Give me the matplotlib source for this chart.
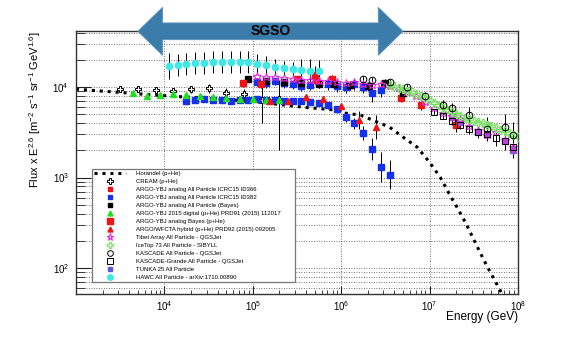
import numpy as np
import matplotlib
matplotlib.use("Agg")
import matplotlib.pyplot as plt
import matplotlib.ticker as mtick
import matplotlib.transforms as mtrans
from matplotlib.patches import Polygon

plt.rcParams['font.family'] = ['Liberation Sans', 'DejaVu Sans']
plt.rcParams['mathtext.fontset'] = 'custom'
plt.rcParams['mathtext.rm'] = 'Liberation Sans'
plt.rcParams['mathtext.it'] = 'Liberation Sans:italic'
plt.rcParams['mathtext.bf'] = 'Liberation Sans:bold'

# Horandel poly-gonato (p+He), log10(E/GeV) vs E^2.6 flux
horandel_loge = [3.0, 3.87, 4.97, 5.57, 5.92, 6.02, 6.22, 6.36, 6.55, 6.70, 6.86,
                 7.00, 7.12, 7.25, 7.31, 7.41, 7.615, 7.81, 7.86]
horandel_flux = [9500, 8200, 7000, 6000, 5600, 5200, 4900, 4300, 3600, 2800, 2170,
                 1480, 1010, 593, 472, 314, 122, 54, 44]

cream_loge = [3.5, 3.7, 3.9, 4.1, 4.3, 4.5, 4.7, 4.9, 5.1, 5.3]
cream_flux = [9500, 9500, 9270, 9030, 9500, 9750, 8590, 8370, 7180, 7370]
cream_elo = [0.03, 0.03, 0.03, 0.04, 0.04, 0.05, 0.06, 0.09, 0.25, 0.56]
cream_ehi = [0.03, 0.03, 0.03, 0.04, 0.04, 0.05, 0.06, 0.06, 0.20, 0.21]

argo366_loge = [5.50, 5.70, 5.90, 6.10, 6.68, 6.90, 7.30]
argo366_flux = [12260, 13570, 12260, 10520, 7560, 6320, 3800]
argo366_err = [0.04, 0.10, 0.05, 0.05, 0.04, 0.05, 0.08]

argo382_loge = [5.05, 5.15, 5.25, 5.35, 5.45, 5.55, 5.65, 5.75, 5.85, 5.95, 6.05, 6.15,
                6.25, 6.35, 6.45,
                4.25, 4.35, 4.45, 4.55, 4.65, 4.75, 4.85, 4.95, 5.05, 5.15, 5.25, 5.35,
                5.45, 5.55, 5.65, 5.75, 5.85, 5.95, 6.05, 6.15, 6.25, 6.35, 6.45, 6.55]
argo382_flux = [11360, 11070, 11650, 11070, 10790, 10260, 10520, 11070, 10790, 10260,
                10000, 10790, 10000, 8590, 9270,
                7000, 7180, 7370, 7180, 7180, 7000, 7180, 7180, 7370, 7180, 7180, 7000,
                7000, 7000, 6830, 6660, 6320, 5710, 4670, 4000, 3110, 2070, 1310, 1070]
argo382_err = [0.04, 0.05, 0.04, 0.05, 0.05, 0.05, 0.05, 0.05, 0.06, 0.06, 0.06, 0.06,
               0.07, 0.10, 0.08,
               0.02, 0.02, 0.02, 0.02, 0.02, 0.02, 0.02, 0.02, 0.02, 0.02, 0.02, 0.02,
               0.02, 0.02, 0.03, 0.03, 0.04, 0.04, 0.05, 0.06, 0.08, 0.12, 0.17, 0.16]

argo_bayes_loge = [4.95, 5.15, 5.35, 5.55, 5.75, 5.92, 6.10, 6.30, 6.50, 6.70]
argo_bayes_flux = [12260, 11650, 11360, 11070, 10790, 10790, 10520, 10260, 11070, 8590]
argo_bayes_err = [0.03, 0.03, 0.03, 0.04, 0.04, 0.04, 0.05, 0.05, 0.05, 0.06]

argo_digital_loge = [3.65, 3.80, 3.95, 4.10, 4.25, 4.40, 4.55, 4.70, 4.85, 5.00, 5.15, 5.30]
argo_digital_flux = [8590, 7960, 8160, 8370, 8160, 7960, 7760, 7560, 7370, 7370, 7180, 7180]
argo_digital_err = [0.02] * 12

argo_bayes_phe_loge = [4.89, 5.09, 5.71]
argo_bayes_phe_flux = [11070, 10790, 11950]
argo_bayes_phe_err = [0.04, 0.04, 0.05]

wfcta_loge = [5.2, 5.4, 5.6, 5.8, 6.0, 6.2, 6.4]
wfcta_flux = [7000, 7000, 7760, 7370, 6160, 4320, 3610]
wfcta_err = [0.02, 0.02, 0.03, 0.03, 0.04, 0.10, 0.13]

tibet_loge = [5.05, 5.15, 5.25, 5.35, 5.45, 5.55, 5.65, 5.75, 5.85, 5.95, 6.05, 6.15,
              6.25, 6.35, 6.45, 6.55, 6.65, 6.75, 6.85, 6.95, 7.05, 7.15, 7.25, 7.35,
              7.45, 7.55, 7.65, 7.75, 7.85, 7.95]
tibet_flux = [13230, 12900, 12900, 12570, 12260, 11950, 11950, 11650, 11650, 11360,
              11070, 11360, 10790, 10520, 10790, 10260, 9750, 8810, 7960, 6830,
              5860, 5160, 4790, 4430, 3710, 3350, 2950, 3180, 2600, 2170]

icetop_loge = [6.55, 6.60, 6.65, 6.70, 6.75, 6.80, 6.85, 6.90, 6.95, 7.00, 7.05, 7.10,
               7.15, 7.20, 7.25, 7.30, 7.35, 7.40, 7.45, 7.50, 7.55, 7.60, 7.65, 7.70,
               7.75, 7.80, 7.85, 7.90, 7.95, 8.00]
icetop_flux = [10520, 10260, 9750, 9500, 9030, 8810, 8370, 7960, 7560, 7180, 6660, 6320,
               5860, 5570, 5290, 5030, 4790, 4550, 4430, 4210, 4100, 4000, 3800, 3710,
               3520, 3350, 3270, 3110, 2950, 2800]

kascade_loge = [6.25, 6.35, 6.55, 6.75, 6.95, 7.15, 7.25, 7.45, 7.65, 7.85, 7.95]
kascade_flux = [12260, 11950, 11360, 10000, 7960, 6320, 5860, 4910, 3440, 3610, 2950]
kascade_err = [0.03, 0.03, 0.03, 0.04, 0.05, 0.06, 0.06, 0.09, 0.13, 0.14, 0.15]

kgrande_loge = [7.05, 7.15, 7.25, 7.35, 7.45, 7.55, 7.65, 7.75, 7.85, 7.95]
kgrande_flux = [5290, 4790, 4210, 3800, 3440, 3180, 3030, 2730, 2530, 2170]
kgrande_err = [0.03, 0.03, 0.04, 0.04, 0.05, 0.06, 0.07, 0.09, 0.10, 0.12]

tunka_loge = [7.25, 7.35, 7.55, 7.65, 7.85, 7.95]
tunka_flux = [4670, 4100, 3180, 3030, 2530, 2010]

hawc_loge = [4.05, 4.15, 4.25, 4.35, 4.45, 4.55, 4.65, 4.75, 4.85, 4.95, 5.05, 5.15,
             5.25, 5.35, 5.45, 5.55, 5.65, 5.75]
hawc_flux = [17060, 17510, 17960, 18420, 18420, 18890, 18890, 18890, 18890, 18890,
             17960, 17510, 16630, 16220, 15810, 15410, 15030, 15030]
hawc_err = [0.14, 0.12, 0.12, 0.12, 0.12, 0.12, 0.12, 0.12, 0.12, 0.12, 0.11, 0.10,
            0.09, 0.08, 0.08, 0.12, 0.13, 0.12]

x_ticks = [1e4, 1e5, 1e6, 1e7, 1e8]
sgso_loge = (3.70, 3.98, 6.42, 6.70)   # arrow tip, head base, head base, tip


def points(ax, loge, flux, err=None, err_hi=None, **style):
    e = 10 ** np.asarray(loge, float)
    f = np.asarray(flux, float)
    if err is not None:
        lo = np.asarray(err, float)
        hi = lo if err_hi is None else np.asarray(err_hi, float)
        ax.errorbar(e, f, yerr=[f - f / 10 ** lo, f * 10 ** hi - f], fmt='none',
                    ecolor='black', elinewidth=0.7, zorder=2)
    ax.plot(e, f, ls='none', zorder=3, **style)


fig = plt.figure(figsize=(5.68, 3.37), dpi=100)
ax = fig.add_axes([0.1338, 0.1276, 0.778, 0.780])

ax.plot(10 ** np.array(horandel_loge), horandel_flux, color='black', lw=2.2,
        ls=(0, (1, 1.6)), zorder=2.5, label='Horandel (p+He)')

ms = 4.2
points(ax, cream_loge, cream_flux, cream_elo, cream_ehi, marker='P', ms=ms + 0.8,
       mfc='white', mec='black', mew=0.7, label='CREAM (p+He)')
points(ax, argo366_loge, argo366_flux, argo366_err, marker='s', ms=ms, color='#f01414',
       label='ARGO-YBJ analog All Particle ICRC15 ID366')
points(ax, argo382_loge, argo382_flux, argo382_err, marker='s', ms=ms, color='#1430f0',
       label='ARGO-YBJ analog All Particle ICRC15 ID382')
points(ax, argo_bayes_loge, argo_bayes_flux, argo_bayes_err, marker='s', ms=ms,
       color='black', label='ARGO-YBJ analog All Particle (Bayes)')
points(ax, argo_digital_loge, argo_digital_flux, argo_digital_err, marker='^', ms=ms,
       color='#1ee01e', label='ARGO-YBJ 2015 digital (p+He) PRD91 (2015) 112017')
points(ax, argo_bayes_phe_loge, argo_bayes_phe_flux, argo_bayes_phe_err, marker='s',
       ms=ms + 0.6, color='#f01414', label='ARGO-YBJ analog Bayes (p+He)')
points(ax, wfcta_loge, wfcta_flux, wfcta_err, marker='^', ms=ms, color='#f01414',
       label='ARGO/WFCTA hybrid (p+He) PRD92 (2015) 092005')
points(ax, tunka_loge, tunka_flux, None, marker='s', ms=ms + 0.4, color='#9a50d8',
       label=None)
points(ax, tibet_loge, tibet_flux, None, marker='*', ms=ms + 2, mfc='none',
       mec='#e828e8', mew=0.8, label='Tibet Array All Particle - QGSJet')
points(ax, icetop_loge, icetop_flux, None, marker='P', ms=ms + 1, mfc='none',
       mec='#7ee46a', mew=0.9, label='IceTop 73 All Particle - SIBYLL')
points(ax, kascade_loge, kascade_flux, kascade_err, marker='o', ms=ms + 0.6, mfc='none',
       mec='black', mew=0.7, label='KASCADE All Particle - QGSJet')
points(ax, kgrande_loge, kgrande_flux, kgrande_err, marker='s', ms=ms + 0.6, mfc='none',
       mec='black', mew=0.7, label='KASCADE-Grande All Particle - QGSJet')
ax.plot([], [], ls='none', marker='s', ms=ms, color='#5a5ae0',
        label='TUNKA 25 All Particle')
points(ax, hawc_loge, hawc_flux, hawc_err, marker='o', ms=ms + 0.4, color='#3ee8e8',
       label='HAWC All Particle - arXiv:1710.00890')

ax.set_xscale('log')
ax.set_yscale('log')
ax.set_xlim(1e3, 1e8)
ax.set_ylim(51.6, 41600)

ax.yaxis.set_major_locator(mtick.LogLocator(base=10))
ax.yaxis.set_minor_locator(mtick.LogLocator(base=10, subs=np.arange(2, 10)))
ax.yaxis.set_minor_formatter(mtick.NullFormatter())
ax.xaxis.set_major_locator(mtick.FixedLocator(x_ticks))
ax.xaxis.set_minor_locator(mtick.LogLocator(base=10, subs=np.arange(2, 10)))
ax.xaxis.set_minor_formatter(mtick.NullFormatter())

ax.tick_params(axis='both', which='both', direction='in', colors='#222222',
               labelcolor='black', labelsize=7)
ax.tick_params(axis='x', which='major', length=6, width=0.8, pad=4)
ax.tick_params(axis='x', which='minor', length=3.2, width=0.6)
ax.tick_params(axis='y', which='major', length=11, width=0.8, pad=5)
ax.tick_params(axis='y', which='minor', length=6.5, width=0.6)

ax.grid(True, axis='y', which='both', ls=(0, (1, 2)), color='#444444', lw=0.6)
ax.grid(True, axis='x', which='major', ls=(0, (1, 2)), color='#444444', lw=0.6)
ax.set_axisbelow(True)
for s in ax.spines.values():
    s.set_color('#333333')
    s.set_linewidth(1.0)

ax.set_xlabel('Energy (GeV)', fontsize=8.5, loc='right')
ax.xaxis.set_label_coords(1.0, -0.0875)
ax.xaxis.label.set_va('center')
ax.set_ylabel(r'Flux x E$^{2.6}$ [m$^{-2}$ s$^{-1}$ sr$^{-1}$ GeV$^{1.6}$]',
              fontsize=8, loc='top')
ax.yaxis.set_label_coords(-0.093, 1.0)
ax.yaxis.label.set_va('center')

leg = ax.legend(loc='upper left', bbox_to_anchor=(0.162, 0.4985, 0.357, 0.0),
                bbox_transform=fig.transFigure, mode='expand', fontsize=4.3,
                frameon=True, fancybox=False, framealpha=1.0, edgecolor='#777777',
                borderpad=0.35, labelspacing=0.47, handlelength=5.4,
                handletextpad=1.6, borderaxespad=0.0, numpoints=1, markerscale=0.85)
leg.get_frame().set_linewidth(0.9)
leg.set_zorder(5)

# SGSO energy range arrow across the top
tr = mtrans.blended_transform_factory(ax.transData, fig.transFigure)
yc, bh, hh = 0.9071, 0.0249, 0.0712
x0, x1, x2, x3 = [10 ** v for v in sgso_loge]
verts = [(x0, yc), (x1, yc + hh), (x1, yc + bh), (x2, yc + bh), (x2, yc + hh),
         (x3, yc), (x2, yc - hh), (x2, yc - bh), (x1, yc - bh), (x1, yc - hh)]
ax.add_patch(Polygon(verts, closed=True, transform=tr, clip_on=False,
                     facecolor='#3b7caa', edgecolor='#5a93bd', lw=0.6, zorder=10))
ax.text(10 ** ((sgso_loge[0] + sgso_loge[3]) / 2), yc, 'SGSO', transform=tr,
        ha='center', va='center', fontsize=10, fontweight='bold', color='black',
        zorder=11)

fig.savefig('out.png', dpi=100)
